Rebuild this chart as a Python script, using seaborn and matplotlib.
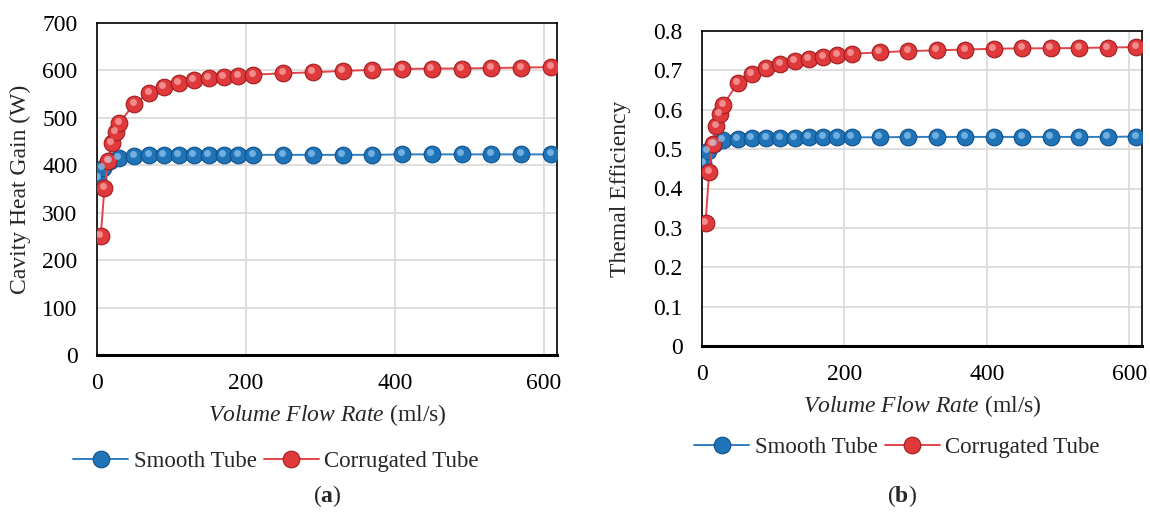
import numpy as np
import pandas as pd
import matplotlib
matplotlib.use("Agg")
import matplotlib.pyplot as plt
import matplotlib.transforms as mtransforms
from matplotlib.lines import Line2D
import seaborn as sns

# ---------------- data ----------------
x_smooth = [2, 8, 17, 29, 50, 70, 90, 110, 130, 150, 170, 190, 210,
            250, 290, 330, 370, 410, 450, 490, 530, 570, 610]
x_corr = [5, 10, 15, 20, 25, 30, 50, 70, 90, 110, 130, 150, 170, 190, 210,
          250, 290, 330, 370, 410, 450, 490, 530, 570, 610]

heat_smooth = [373, 394, 409, 416, 420, 421, 421, 422, 422, 422, 422, 422, 422,
               422, 422, 422, 422, 423, 423, 423, 423, 423, 423]
heat_corr = [250, 352, 409, 447, 470, 489, 530, 552, 565, 574, 580, 584, 587, 589, 591,
             594, 596, 599, 601, 603, 604, 604, 605, 606, 607]

eff_smooth = [0.466, 0.496, 0.513, 0.522, 0.525, 0.527, 0.528, 0.529, 0.529, 0.530, 0.530,
              0.530, 0.530, 0.530, 0.531, 0.531, 0.531, 0.531, 0.531, 0.531, 0.531, 0.531, 0.532]
eff_corr = [0.313, 0.441, 0.513, 0.559, 0.589, 0.613, 0.667, 0.692, 0.706, 0.717, 0.724,
            0.729, 0.734, 0.738, 0.742, 0.746, 0.749, 0.751, 0.753, 0.755, 0.756, 0.756,
            0.757, 0.758, 0.759]

series_names = ["Smooth Tube", "Corrugated Tube"]
x_ticks = [0, 200, 400, 600]
heat_ticks = [0, 100, 200, 300, 400, 500, 600, 700]
eff_ticks = [0, 0.1, 0.2, 0.3, 0.4, 0.5, 0.6, 0.7, 0.8]
x_label = r"$\mathit{Volume\ Flow\ Rate}$ (ml/s)"
heat_label = "Cavity Heat Gain (W)"
eff_label = "Themal Efficiency"

# ---------------- style ----------------
sns.set_theme(style="white")
plt.rcParams["font.family"] = ["Liberation Serif", "DejaVu Serif"]
plt.rcParams["mathtext.fontset"] = "custom"
plt.rcParams["mathtext.rm"] = "Liberation Serif"
plt.rcParams["mathtext.it"] = "Liberation Serif:italic"
plt.rcParams["mathtext.bf"] = "Liberation Serif:bold"

FS = 17
LFS = 16.5
blue, blue_edge, blue_hi = "#1f74b8", "#11508a", "#8cc4ee"
red, red_edge, red_hi = "#e0393b", "#a01c1e", "#f7a8a8"
line_blue, line_red = "#2f7fc1", "#e0454a"

fig = plt.figure(figsize=(11.5, 5.17), dpi=100)
ax1 = fig.add_axes([97 / 1150, 1 - 355 / 517, 460 / 1150, 332 / 517])
ax2 = fig.add_axes([702 / 1150, 1 - 346 / 517, 440 / 1150, 315 / 517])

MS = 12


def draw(ax, xs, ys, color, edge, hi, lcolor):
    df = pd.DataFrame({"x": xs, "y": ys})
    sns.lineplot(data=df, x="x", y="y", ax=ax, color=lcolor, linewidth=1.4,
                 marker="o", markersize=MS, markerfacecolor=color,
                 markeredgecolor=edge, markeredgewidth=0.8, zorder=3)
    hi_tr = mtransforms.offset_copy(ax.transData, fig=fig, x=-1.5, y=2.0, units="dots")
    ax.plot(xs, ys, linestyle="none", marker="o", markersize=5,
            markerfacecolor=hi, markeredgecolor="none", alpha=0.75,
            transform=hi_tr, zorder=4)


def style(ax, ylim, yticks, ylabel, yfmt, ylab_x):
    ax.set_xlim(0, 618)
    ax.set_ylim(*ylim)
    ax.set_xticks(x_ticks)
    ax.set_yticks(yticks)
    ax.set_yticklabels([yfmt(v) for v in yticks])
    ax.grid(True, color="#d9d9d9", linewidth=1.2)
    ax.set_axisbelow(True)
    ax.tick_params(axis="both", length=0, labelsize=FS, colors="black")
    ax.tick_params(axis="x", pad=13)
    ax.tick_params(axis="y", pad=14)
    for s in ["top", "right", "left"]:
        ax.spines[s].set_color("black")
        ax.spines[s].set_linewidth(1.2)
    ax.spines["bottom"].set_color("black")
    ax.spines["bottom"].set_linewidth(2.2)
    ax.set_xlabel(x_label, fontsize=FS, labelpad=6)
    ax.set_ylabel(ylabel, fontsize=FS)
    ax.yaxis.set_label_coords(ylab_x, 0.5)


draw(ax1, x_smooth, heat_smooth, blue, blue_edge, blue_hi, line_blue)
draw(ax1, x_corr, heat_corr, red, red_edge, red_hi, line_red)
draw(ax2, x_smooth, eff_smooth, blue, blue_edge, blue_hi, line_blue)
draw(ax2, x_corr, eff_corr, red, red_edge, red_hi, line_red)

style(ax1, (0, 700), heat_ticks, heat_label, lambda v: f"{v:d}", (31 - 97) / 460)
style(ax2, (0, 0.8), eff_ticks, eff_label, lambda v: "0" if v == 0 else f"{v:.1f}",
      (631 - 702) / 440)

handles = [
    Line2D([], [], color=line_blue, linewidth=1.4, marker="o", markersize=MS,
           markerfacecolor=blue, markeredgecolor=blue_edge, markeredgewidth=0.8),
    Line2D([], [], color=line_red, linewidth=1.4, marker="o", markersize=MS,
           markerfacecolor=red, markeredgecolor=red_edge, markeredgewidth=0.8),
]
fig.legend(handles, series_names, loc="center", bbox_to_anchor=(276 / 1150, 1 - 461 / 517),
           ncol=2, frameon=False, fontsize=LFS, handlelength=2.4, handletextpad=0.25,
           columnspacing=0.3)
fig.legend(handles, series_names, loc="center", bbox_to_anchor=(897 / 1150, 1 - 447 / 517),
           ncol=2, frameon=False, fontsize=LFS, handlelength=2.4, handletextpad=0.25,
           columnspacing=0.3)

fig.text(327 / 1150, 1 - 496 / 517, r"($\mathbf{a}$)", ha="center", va="center", fontsize=FS)
fig.text(902 / 1150, 1 - 496 / 517, r"($\mathbf{b}$)", ha="center", va="center", fontsize=FS)

fig.savefig("out.png", dpi=100)
